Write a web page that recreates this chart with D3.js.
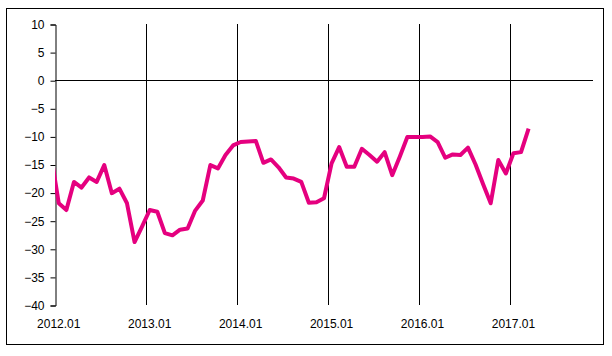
<!DOCTYPE html>
<html>
<head>
<meta charset="utf-8">
<script src="https://cdn.jsdelivr.net/npm/d3@7"></script>
<style>
  body { margin: 0; background: #fff; }
  svg { display: block; font-family: "Liberation Sans", Arial, sans-serif; }
</style>
</head>
<body>
<div id="chart"></div>
<script>
////////////////////////////////////////////////////////////////////////
// Data: monthly index, 2011.12 (clipped at the axis) through 2017.03

let startYear = 2012;
let nCategories = 71;   // 2012.01 .. 2017.11 on the category axis

let yearLabels = ["2012.01", "2013.01", "2014.01", "2015.01", "2016.01", "2017.01"];

let values = [
  -13.5,                                                                  // 2011.12
  -21.9, -23.1, -18.1, -19.1, -17.3, -18.1, -15.1, -20.1, -19.3, -21.9, -28.8, -26.0, // 2012
  -23.1, -23.4, -27.2, -27.6, -26.6, -26.4, -23.2, -21.4, -15.1, -15.7, -13.3, -11.6, // 2013
  -11.0, -10.9, -10.8, -14.7, -14.1, -15.5, -17.3, -17.5, -18.1, -21.8, -21.7, -21.0, // 2014
  -14.8, -11.9, -15.4, -15.4, -12.2, -13.3, -14.5, -12.8, -16.9, -13.6, -10.1, -10.1, // 2015
  -10.1, -10.0, -11.0, -13.8, -13.2, -13.3, -12.0, -15.0, -18.5, -21.9, -14.2, -16.6, // 2016
  -13.0, -12.8, -8.6                                                      // 2017
];

let yTicks = [10, 5, 0, -5, -10, -15, -20, -25, -30, -35, -40];

////////////////////////////////////////////////////////////////////////
// Layout

let width = 612, height = 356;
let plot = { left: 55, right: 593, top: 24, bottom: 305 };

// x is a position in "category units": category i spans [i, i+1]
let xScale = d3.scaleLinear().domain([0, nCategories]).range([plot.left, plot.right]);
let yScale = d3.scaleLinear().domain([-40, 10]).range([plot.bottom, plot.top]);

let svg = d3.select("#chart")
  .append("svg")
  .attr("width", width)
  .attr("height", height);

// outer frame
svg.append("rect")
  .attr("x", 6.5).attr("y", 8.5)
  .attr("width", 597).attr("height", 336)
  .attr("fill", "#fff")
  .attr("stroke", "#000")
  .attr("stroke-width", 1);

svg.append("clipPath").attr("id", "plotClip")
  .append("rect")
  .attr("x", plot.left).attr("y", plot.top - 5)
  .attr("width", plot.right - plot.left)
  .attr("height", plot.bottom - plot.top + 10);

// vertical gridlines at each January (category boundary)
let gridIdx = d3.range(1, yearLabels.length).map(k => k * 12);
svg.append("g")
  .selectAll("line")
  .data(gridIdx)
  .enter()
  .append("line")
  .attr("x1", d => Math.round(xScale(d)) + 0.5)
  .attr("x2", d => Math.round(xScale(d)) + 0.5)
  .attr("y1", plot.top)
  .attr("y2", plot.bottom)
  .attr("stroke", "#000");

// y axis with ticks to the left
let yAxis = d3.axisLeft(yScale)
  .tickValues(yTicks)
  .tickSize(5)
  .tickPadding(6)
  .tickFormat(d3.format("d"));

let yG = svg.append("g")
  .attr("transform", "translate(" + (plot.left + 0.5) + ",0.5)")
  .call(yAxis);
yG.select(".domain").attr("stroke", "#000");
yG.selectAll(".tick line").attr("stroke", "#000");
yG.selectAll(".tick text")
  .attr("fill", "#000")
  .style("font-size", "12px");

// category axis crossing at zero
svg.append("line")
  .attr("x1", plot.left)
  .attr("x2", plot.right)
  .attr("y1", Math.round(yScale(0)) + 0.5)
  .attr("y2", Math.round(yScale(0)) + 0.5)
  .attr("stroke", "#000");

// year labels at the bottom, centred on the January category
svg.append("g")
  .selectAll("text")
  .data(yearLabels)
  .enter()
  .append("text")
  .attr("x", (d, i) => xScale(i * 12 + 0.5))
  .attr("y", 328)
  .attr("text-anchor", "middle")
  .attr("fill", "#000")
  .style("font-size", "12px")
  .text(d => d);

// the series line (first point is one month before the axis, clipped)
let line = d3.line()
  .x((d, i) => xScale(i - 1 + 0.5))
  .y(d => yScale(d));

svg.append("path")
  .datum(values)
  .attr("clip-path", "url(#plotClip)")
  .attr("d", line)
  .attr("fill", "none")
  .attr("stroke", "#e5007f")
  .attr("stroke-width", 4)
  .attr("stroke-linejoin", "round");
</script>
</body>
</html>
